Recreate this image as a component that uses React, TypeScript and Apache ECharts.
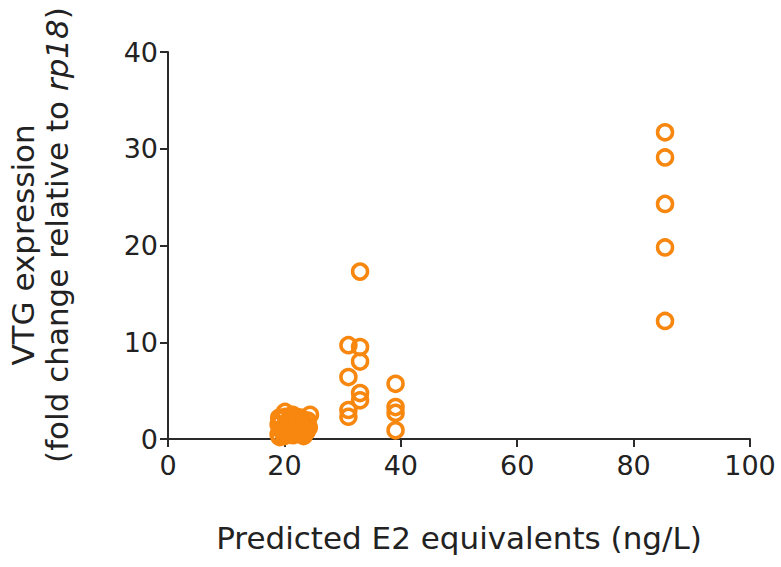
import React, { useEffect, useRef } from "react";
import * as echarts from "echarts";

const xTicks = [0, 20, 40, 60, 80, 100];
const yTicks = [0, 10, 20, 30, 40];

const clusterX = [19, 19, 19.3, 19.5, 20, 20.1, 20.3, 20.6, 21, 21.2, 21.5, 21.8, 22, 22.3, 22.6, 23, 23.3, 23.8, 24.2, 24.4, 19.2, 20.5, 22, 23.5, 19.6, 20.2, 20.8, 21.4, 22.1, 22.7, 23.4, 24.0, 19.1, 20.9, 21.7, 22.9, 23.9, 20.4, 21.3, 22.5];
const clusterY = [0.5, 1.5, 1.0, 2.0, 0.3, 2.8, 1.2, 0.8, 2.2, 1.6, 0.4, 1.9, 1.0, 0.6, 1.4, 2.1, 0.3, 0.75, 1.2, 2.5, 0.2, 1.8, 2.3, 1.6, 0.9, 2.3, 1.4, 2.5, 1.7, 2.2, 1.0, 1.9, 2.2, 0.5, 1.1, 0.5, 1.5, 0.6, 0.9, 1.8];

const groupX = [31, 31, 31, 31, 33, 33, 33, 33, 33, 39.1, 39.1, 39.1, 39.1, 85.4, 85.4, 85.4, 85.4, 85.4];
const groupY = [9.7, 6.4, 3.0, 2.3, 17.3, 9.5, 8.0, 4.75, 4.0, 5.7, 3.3, 2.7, 0.9, 31.7, 29.1, 24.3, 19.8, 12.2];

const FONT = "DejaVu Sans";
const ORANGE = "#F7870F";

export default function App() {
  const ref = useRef<HTMLDivElement>(null);
  useEffect(() => {
    if (!ref.current) return;
    const chart = echarts.init(ref.current, undefined, { renderer: "svg" });
    const pts = clusterX.map((x, i) => [x, clusterY[i]]).concat(groupX.map((x, i) => [x, groupY[i]]));
    chart.setOption({
      animation: false,
      grid: { left: 168, right: 31, top: 52, bottom: 128, containLabel: false },
      xAxis: {
        type: "value",
        min: xTicks[0],
        max: xTicks[xTicks.length - 1],
        interval: 20,
        splitLine: { show: false },
        axisLine: { show: true, lineStyle: { color: "#2b2b2b", width: 2 } },
        axisTick: { show: true, length: 8, lineStyle: { color: "#2b2b2b", width: 2 } },
        axisLabel: { fontFamily: FONT, fontSize: 27, color: "#222", margin: 13 },
        name: "Predicted E2 equivalents (ng/L)",
        nameLocation: "middle",
        nameGap: 83,
        nameTextStyle: { fontFamily: FONT, fontSize: 31, color: "#222" },
      },
      yAxis: {
        type: "value",
        min: yTicks[0],
        max: yTicks[yTicks.length - 1],
        interval: 10,
        splitLine: { show: false },
        axisLine: { show: true, lineStyle: { color: "#2b2b2b", width: 2 } },
        axisTick: { show: true, length: 8, lineStyle: { color: "#2b2b2b", width: 2 } },
        axisLabel: { fontFamily: FONT, fontSize: 27, color: "#222", margin: 10 },
      },
      graphic: [
        {
          type: "text",
          x: 23,
          y: 245,
          rotation: Math.PI / 2,
          style: {
            text: "VTG expression",
            fontFamily: FONT,
            fontSize: 31,
            fill: "#222",
            textAlign: "center",
            textVerticalAlign: "middle",
          },
        },
        {
          type: "text",
          x: 57,
          y: 235,
          rotation: Math.PI / 2,
          style: {
            text: "(fold change relative to {i|rp18})",
            fontFamily: FONT,
            fontSize: 31,
            fill: "#222",
            textAlign: "center",
            textVerticalAlign: "middle",
            rich: { i: { fontStyle: "italic", fontFamily: FONT, fontSize: 31, fill: "#222" } },
          },
        },
      ],
      series: [
        {
          type: "scatter",
          data: pts,
          symbol: "circle",
          symbolSize: 15,
          itemStyle: { color: "rgba(0,0,0,0)", borderColor: ORANGE, borderWidth: 3.5, opacity: 1 },
        },
      ],
    });
    return () => chart.dispose();
  }, []);
  return <div ref={ref} style={{ width: 781, height: 567, position: "absolute", left: 0, top: 0 }} />;
}
